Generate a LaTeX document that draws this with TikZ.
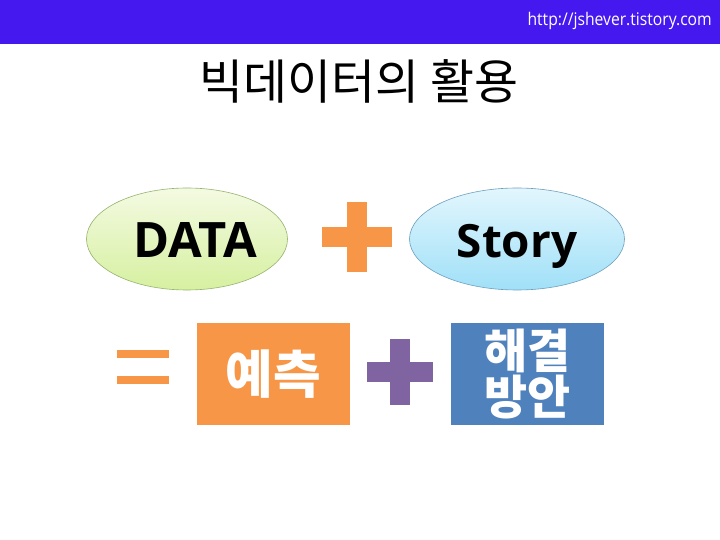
\documentclass[tikz,border=0pt]{standalone}
\usepackage{fontspec}
\setmainfont{Open Sans}
\newfontfamily\kr{Noto Sans CJK KR}
\usetikzlibrary{shapes.geometric,calc}
\definecolor{barcol}{RGB}{70,24,240}
\definecolor{orng}{RGB}{247,150,70}
\definecolor{purp}{RGB}{128,100,162}
\definecolor{blu}{RGB}{79,129,189}
\tikzset{
  ovalbox/.style={ellipse, draw, line width=0.6bp, inner sep=0pt},
  sqbox/.style={rectangle, inner sep=0pt, minimum width=153bp, minimum height=102bp, text=white, align=center},
  bigtxt/.style={inner sep=0pt, font=\bfseries\fontsize{49}{52}\selectfont}
}
\begin{document}
\begin{tikzpicture}[x=1bp,y=-1bp]
\useasboundingbox (0,0) rectangle (720,540);
\fill[white] (0,0) rectangle (720,540);
% top bar
\fill[barcol] (0,0) rectangle (720,44);
\node[anchor=east, text=white, inner sep=0pt, font=\fontsize{17.5}{18}\selectfont, xscale=0.9] (url) at (712,21) {http://jshever.tistory.com};
% title
\node[font=\kr\fontsize{48}{52}\selectfont, inner sep=0pt] (title) at (359,81) {빅데이터의 활용};
% ellipses
\node[ovalbox, draw={rgb,255:red,150;green,180;blue,110}, top color={rgb,255:red,244;green,250;blue,226}, bottom color={rgb,255:red,214;green,240;blue,160}, minimum width=201bp, minimum height=102bp] (data) at (187,239) {};
\node[bigtxt] (datatxt) at (195,240) {DATA};
\node[ovalbox, draw={rgb,255:red,110;green,160;blue,190}, top color={rgb,255:red,226;green,246;blue,253}, bottom color={rgb,255:red,160;green,224;blue,248}, minimum width=215bp, minimum height=102bp] (story) at (517,239) {};
\node[bigtxt, font=\bfseries\fontsize{46}{50}\selectfont, anchor=base] (storytxt) at (517,258) {Story};
% orange plus
\coordinate (p1) at (357,237);
\fill[orng] ($(p1)+(-35,-10)$) rectangle ($(p1)+(35,10)$);
\fill[orng] ($(p1)+(-10,-35)$) rectangle ($(p1)+(10,35)$);
% equals
\coordinate (eq) at (143,367);
\fill[orng] ($(eq)+(-26,-17)$) rectangle ($(eq)+(26,-9)$);
\fill[orng] ($(eq)+(-26,9)$) rectangle ($(eq)+(26,17)$);
% rectangles
\node[sqbox, fill=orng, font=\kr\bfseries\fontsize{52}{56}\selectfont] (pred) at (273.5,374) {예측};
\node[sqbox, fill=blu, font=\kr\bfseries\fontsize{47}{50}\selectfont] (sol) at (527.5,374) {해결\\[-4bp]방안};
% purple plus
\coordinate (p2) at (400,372);
\fill[purp] ($(p2)+(-33,-10)$) rectangle ($(p2)+(33,10)$);
\fill[purp] ($(p2)+(-10,-33)$) rectangle ($(p2)+(10,33)$);
\end{tikzpicture}
\end{document}
